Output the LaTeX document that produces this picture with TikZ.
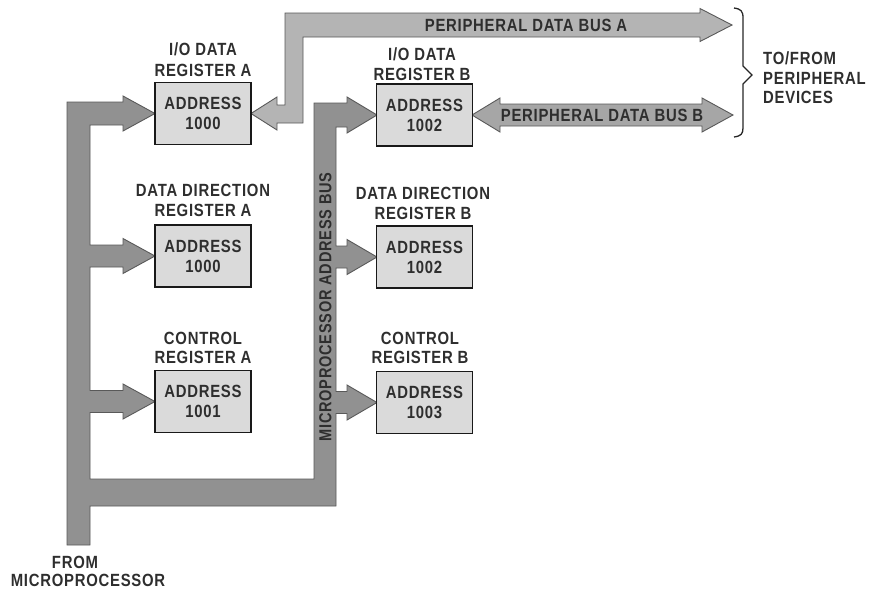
\documentclass[tikz,border=0pt]{standalone}
\usepackage{fontspec}
\setmainfont{Liberation Sans}
\newfontfamily\lbl{Liberation Sans Bold}[LetterSpace=5]
\usepackage{graphicx}
\definecolor{busdark}{HTML}{919191}
\definecolor{buslight}{HTML}{B4B4B4}
\definecolor{busmid}{HTML}{A6A6A6}
\definecolor{boxgray}{HTML}{DADADA}
\definecolor{txt}{HTML}{2E2E2E}
\newcommand\sq[1]{\scalebox{0.96}[1.14]{#1}}
\begin{document}
\begin{tikzpicture}[x=1pt,y=-1pt,
  reg/.style={draw=black!90, line width=1.8pt, fill=boxgray, minimum width=96pt,
    minimum height=62pt, inner sep=0pt, align=center, text=txt,
    font=\lbl\fontsize{15.5}{19}\selectfont},
  lab/.style={inner sep=0pt, text=txt, font=\lbl\fontsize{15.5}{19}\selectfont},
  bus/.style={draw=black!65, line width=0.9pt, line join=miter}]
\useasboundingbox (0,0) rectangle (870,590);
% main address bus
\draw[bus, fill=busdark] (67,102) -- (123,102) -- (123,96) -- (155,113.5) -- (123,131) -- (123,125) -- (90,125)
 -- (90,245) -- (123,245) -- (123,238.5) -- (155,256) -- (123,273.5) -- (123,267) -- (90,267)
 -- (90,390.5) -- (123,390.5) -- (123,384) -- (155,401.5) -- (123,419) -- (123,412.5) -- (90,412.5)
 -- (90,479) -- (314,479) -- (314,103) -- (347,103) -- (347,97) -- (377,115) -- (347,133) -- (347,127) -- (336,127)
 -- (336,246) -- (347,246) -- (347,239.5) -- (377,257) -- (347,274.5) -- (347,268) -- (336,268)
 -- (336,391.5) -- (347,391.5) -- (347,385) -- (377,402.5) -- (347,420) -- (347,413.5) -- (336,413.5)
 -- (336,506) -- (90,506) -- (90,545) -- (67,545) -- cycle;
% peripheral data bus A
\draw[bus, fill=buslight] (251,113.5) -- (277,97) -- (277,105) -- (285,105) -- (285,13) -- (700,13)
 -- (700,8.5) -- (732,25) -- (700,41.5) -- (700,37) -- (303,37) -- (303,123) -- (277,123) -- (277,130) -- cycle;
% peripheral data bus B
\draw[bus, fill=busmid] (472,115) -- (500,98) -- (500,104) -- (702,104) -- (702,98) -- (733,115)
 -- (702,132) -- (702,126) -- (500,126) -- (500,132) -- cycle;
% registers
\node[reg] (ioa) at (203,113.5) {\sq{ADDRESS}\\[1pt]\sq{1000}};
\node[reg] (dda) at (203,256) {\sq{ADDRESS}\\[1pt]\sq{1000}};
\node[reg] (cra) at (203,401.5) {\sq{ADDRESS}\\[1pt]\sq{1001}};
\node[reg] (iob) at (424.5,115) {\sq{ADDRESS}\\[1pt]\sq{1002}};
\node[reg] (ddb) at (424.5,257) {\sq{ADDRESS}\\[1pt]\sq{1002}};
\node[reg] (crb) at (424.5,402.5) {\sq{ADDRESS}\\[1pt]\sq{1003}};
% titles
\node[lab, anchor=base] (t1) at (203,55) {\sq{I/O DATA}};
\node[lab, anchor=base] (t2) at (203,76) {\sq{REGISTER A}};
\node[lab, anchor=base] (t3) at (203,196) {\sq{DATA DIRECTION}};
\node[lab, anchor=base] (t4) at (203,216) {\sq{REGISTER A}};
\node[lab, anchor=base] (t5) at (203,344) {\sq{CONTROL}};
\node[lab, anchor=base] (t6) at (203,363) {\sq{REGISTER A}};
\node[lab, anchor=base] (t7) at (422,60) {\sq{I/O DATA}};
\node[lab, anchor=base] (t8) at (422,80) {\sq{REGISTER B}};
\node[lab, anchor=base] (t9) at (423,199) {\sq{DATA DIRECTION}};
\node[lab, anchor=base] (t10) at (423,219) {\sq{REGISTER B}};
\node[lab, anchor=base] (t11) at (420,344) {\sq{CONTROL}};
\node[lab, anchor=base] (t12) at (420,363) {\sq{REGISTER B}};
% bus labels
\node[lab] (pa) at (526,25) {\sq{PERIPHERAL DATA BUS A}};
\node[lab] (pb) at (602,115) {\sq{PERIPHERAL DATA BUS B}};
\node[lab, rotate=90] (mab) at (325.5,307) {\scalebox{0.94}[1.12]{MICROPROCESSOR ADDRESS BUS}};
% from microprocessor
\node[lab, anchor=base] (f1) at (75,568) {\sq{FROM}};
\node[lab, anchor=base] (f2) at (88,586) {\sq{MICROPROCESSOR}};
% brace and peripheral devices
\draw[line width=1.3pt, black!85] (734,8) .. controls (741,9) and (743,11) .. (743,18) -- (743,66) -- (752,75)
 -- (743,84) -- (743,128) .. controls (743,134) and (741,136) .. (734,137);
\node[lab, anchor=base west] (d1) at (763,64) {\sq{TO/FROM}};
\node[lab, anchor=base west] (d2) at (763,84) {\sq{PERIPHERAL}};
\node[lab, anchor=base west] (d3) at (763,103) {\sq{DEVICES}};
\end{tikzpicture}
\end{document}
